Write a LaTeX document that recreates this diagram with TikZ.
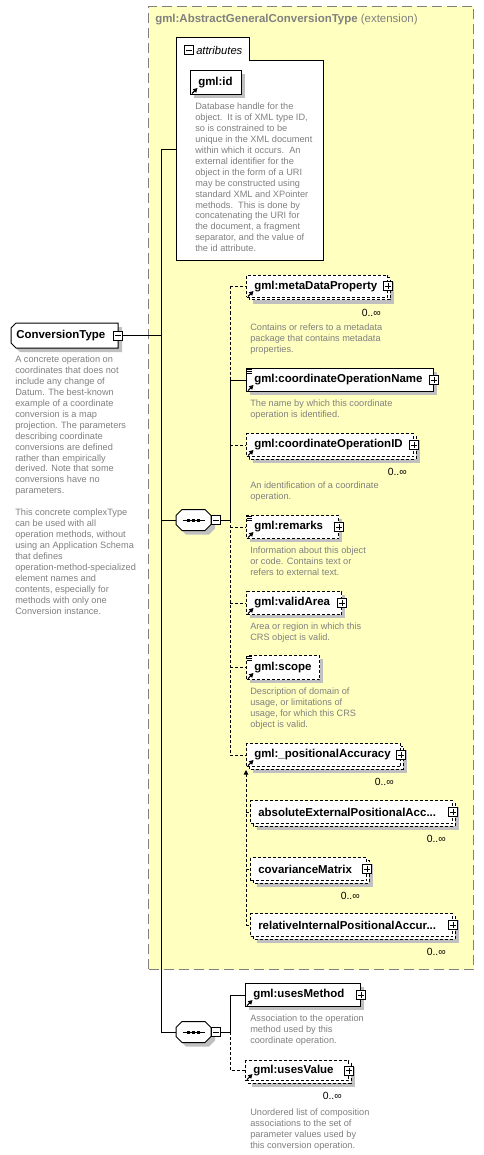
\documentclass[tikz,border=0pt]{standalone}
\usepackage{fontspec}
\setmainfont{Liberation Sans}
\usetikzlibrary{calc,arrows.meta}
\definecolor{extfill}{RGB}{255,255,192}
\definecolor{extline}{RGB}{128,128,128}
\definecolor{descgray}{RGB}{128,128,128}
\definecolor{shadowc}{RGB}{192,192,192}
\tikzset{
 conn/.style={line width=0.75pt},
 dconn/.style={line width=0.75pt, dash pattern=on 2.25pt off 1.5pt},
 elbox/.style={draw, fill=white, line width=0.75pt, inner sep=0},
 dbox/.style={dash pattern=on 2.25pt off 1.5pt},
 eltext/.style={font=\fontsize{8.6pt}{10pt}\selectfont\bfseries, inner sep=0},
 desc/.style={font=\fontsize{6.9pt}{8.2pt}\selectfont, text=descgray, align=left, inner sep=0, anchor=north west},
 mult/.style={font=\fontsize{7.8pt}{9pt}\selectfont, inner sep=0, anchor=east},
 pbox/.style={draw, fill=white, line width=0.75pt, minimum size=6.75pt, inner sep=0},
}
% single element box
\newcommand\ElBox[7]{%
  \fill[shadowc] (#2+4,#3+4) rectangle (#4+4,#5+4);
  \node[elbox,#6,anchor=north west,minimum width={(#4-#2)*0.75pt},minimum height={(#5-#3)*0.75pt}] (#1) at (#2,#3) {};
  \node[eltext,anchor=west] (#1-t) at ($(#1.west)+(8,0)$) {#7};
}
% multiple element box
\newcommand\MultiBox[7]{%
  \fill[shadowc] (#2+7,#3+7) rectangle (#4+7,#5+7);
  \draw[line width=0.75pt,dbox,fill=white] (#2+3,#3+3) rectangle (#4+3,#5+3);
  \node[elbox,dbox,#6,anchor=north west,minimum width={(#4-#2)*0.75pt},minimum height={(#5-#3)*0.75pt}] (#1) at (#2,#3) {};
  \node[eltext,anchor=west] (#1-t) at ($(#1.west)+(8,0)$) {#7};
  \node[mult] (#1-n) at (#4-6,#5+16) {0..∞};
}
\newcommand\PlusBox[1]{%
  \node[pbox] (#1-p) at (#1.east) {};
  \draw[line width=0.6pt] ($(#1-p.center)+(-3,0)$) -- ($(#1-p.center)+(3,0)$)
    ($(#1-p.center)+(0,-3)$) -- ($(#1-p.center)+(0,3)$);
}
\newcommand\MinusBox[3]{%
  \node[pbox] (#1) at (#2,#3) {};
  \draw[line width=0.6pt] ($(#1.center)+(-3,0)$) -- ($(#1.center)+(3,0)$);
}
\newcommand\RefIcon[1]{%
  \draw[line width=0.8pt,-{Triangle[length=3.2pt,width=3.4pt]}] ($(#1.south west)+(2,-1.5)$) -- ++(5.5,-5.5);
}
\newcommand\LinesIcon[1]{%
  \draw[line width=0.45pt] ($(#1.north west)+(1,1)$) -- ++(5,0)
    ($(#1.north west)+(1,3)$) -- ++(5,0) ($(#1.north west)+(1,5)$) -- ++(5,0);
}
\newcommand\SeqNode[3]{%
  \node[inner sep=0, minimum width=26.25pt, minimum height=15.75pt] (#1) at (#2,#3) {};
  \fill[shadowc] (#2-13.5,#3-0.5) -- (#2-7.5,#3-6.5) -- (#2+15.5,#3-6.5) -- (#2+21.5,#3-0.5)
    -- (#2+21.5,#3+8.5) -- (#2+15.5,#3+14.5) -- (#2-7.5,#3+14.5) -- (#2-13.5,#3+8.5) -- cycle;
  \filldraw[fill=white,line width=0.75pt] (#2-17.5,#3-4.5) -- (#2-11.5,#3-10.5) -- (#2+11.5,#3-10.5) -- (#2+17.5,#3-4.5)
    -- (#2+17.5,#3+4.5) -- (#2+11.5,#3+10.5) -- (#2-11.5,#3+10.5) -- (#2-17.5,#3+4.5) -- cycle;
  \draw[line width=0.75pt] (#2-11,#3) -- (#2+11,#3);
  \fill (#2-6.5,#3-1.5) rectangle +(3,3);
  \fill (#2-1.5,#3-1.5) rectangle +(3,3);
  \fill (#2+3.5,#3-1.5) rectangle +(3,3);
  \MinusBox{#1-m}{#2+22.5}{#3}
}
\begin{document}
\begin{tikzpicture}[x=0.75pt,y=-0.75pt]
\useasboundingbox (0,0) rectangle (483,1155);
\fill[white] (0,0) rectangle (483,1155);
% extension box
\node[draw=extline, fill=extfill, line width=0.75pt, dash pattern=on 7.5pt off 3.75pt, inner sep=0,
  anchor=north west, minimum width=243.75pt, minimum height=722.25pt] (ext) at (148,6) {};
\node[anchor=base west, inner sep=0, text=extline, font=\fontsize{8.6pt}{10pt}\selectfont] (ext-t) at (155,22.5)
  {\bfseries gml:AbstractGeneralConversionType \mdseries(extension)};

% ConversionType
\node[inner sep=0, anchor=north west, minimum width=80.25pt, minimum height=18.75pt] (ct) at (11,323) {};
\fill[shadowc] (15,332) -- (20,327) -- (122,327) -- (122,352) -- (20,352) -- (15,347) -- cycle;
\filldraw[fill=white,line width=0.75pt] (11,328) -- (16,323) -- (118,323) -- (118,348) -- (16,348) -- (11,343) -- cycle;
\node[eltext,anchor=west] (ct-t) at (16,335.5) {ConversionType};
\MinusBox{ct-m}{118}{335.5}
\node[desc] (ct-d) at (15,355.7) {A concrete operation on\\coordinates that does not\\include any change of\\Datum. The best-known\\example of a coordinate\\conversion is a map\\projection. The parameters\\describing coordinate\\conversions are defined\\rather than empirically\\derived. Note that some\\conversions have no\\parameters.\\[8.2pt]This concrete complexType\\can be used with all\\operation methods, without\\using an Application Schema\\that defines\\operation-method-specialized\\element names and\\contents, especially for\\methods with only one\\Conversion instance.};

% attributes
\node[inner sep=0, anchor=north west, minimum width=110.25pt, minimum height=167.25pt] (attr) at (176,38) {};
\filldraw[fill=white,line width=0.75pt] (176,261) -- (176,38) -- (249,38) -- (249,61) -- (323,61) -- (323,261) -- cycle;
\MinusBox{attr-m}{188.5}{50.5}
\node[anchor=west, inner sep=0, font=\fontsize{8.4pt}{10pt}\selectfont\itshape] (attr-t) at (196,50.5) {attributes};
\ElBox{gid}{190}{70}{241}{94}{}{gml:id}
\RefIcon{gid}
\node[desc] (gid-d) at (195,102.7) {Database handle for the\\object.\ \ It is of XML type ID,\\so is constrained to be\\unique in the XML document\\within which it occurs.\ \ An\\external identifier for the\\object in the form of a URI\\may be constructed using\\standard XML and XPointer\\methods.\ \ This is done by\\concatenating the URI for\\the document, a fragment\\separator, and the value of\\the id attribute.};

% trunk
\coordinate (trk) at (161,150);
\coordinate (trkB) at (161,1032);
\draw[conn] (ct-m.east) -- (ct-m.east -| trk);
\draw[conn] (trk) -- (trkB);
\draw[conn] (trk) -- (trk -| attr.west);

% sequence 1
\SeqNode{seqA}{193.5}{520}
\draw[conn] (seqA.west -| trk) -- (seqA.west);
\coordinate (busA) at (230,520);
\draw[conn] (seqA-m.east) -- (busA);

\MultiBox{meta}{246}{275}{387}{297}{}{gml:metaDataProperty}
\PlusBox{meta}\RefIcon{meta}
\node[desc] (meta-d) at (250,323.7) {Contains or refers to a metadata\\package that contains metadata\\properties.};

\ElBox{name}{246}{368}{433}{391}{}{gml:coordinateOperationName}
\PlusBox{name}\RefIcon{name}\LinesIcon{name}
\node[desc] (name-d) at (250,399.7) {The name by which this coordinate\\operation is identified.};

\MultiBox{oid}{246}{433}{413}{456}{}{gml:coordinateOperationID}
\PlusBox{oid}\RefIcon{oid}
\node[desc] (oid-d) at (250,481.7) {An identification of a coordinate\\operation.};

\ElBox{rem}{246}{515}{338}{538}{dbox}{gml:remarks}
\PlusBox{rem}\RefIcon{rem}\LinesIcon{rem}
\node[desc] (rem-d) at (250,546.7) {Information about this object\\or code. Contains text or\\refers to external text.};

\ElBox{va}{246}{591}{341}{614}{dbox}{gml:validArea}
\PlusBox{va}\RefIcon{va}
\node[desc] (va-d) at (250,622.7) {Area or region in which this\\CRS object is valid.};

\ElBox{sc}{246}{655}{319}{679}{dbox}{gml:scope}
\RefIcon{sc}\LinesIcon{sc}
\node[desc] (sc-d) at (250,687.7) {Description of domain of\\usage, or limitations of\\usage, for which this CRS\\object is valid.};

\MultiBox{pa}{246}{743}{400}{766}{}{gml:\_positionalAccuracy}
\PlusBox{pa}\RefIcon{pa}

\draw[dconn] (busA |- meta.west) -- (meta.west);
\draw[conn] (busA |- name.west) -- (name.west);
\draw[dconn] (busA |- oid.west) -- (oid.west);
\draw[dconn] (busA |- rem.west) -- (rem.west);
\draw[dconn] (busA |- va.west) -- (va.west);
\draw[dconn] (busA |- sc.west) -- (sc.west);
\draw[dconn] (busA |- pa.west) -- (pa.west);
\draw[dconn] (busA |- meta.west) -- (busA |- name.west);
\draw[conn] (busA |- name.west) -- (busA);
\draw[dconn] (busA) -- (busA |- pa.west);

% substitution group
\MultiBox{ae}{250}{800}{452}{823}{}{absoluteExternalPositionalAcc...}
\PlusBox{ae}
\MultiBox{cm}{250}{857}{366}{880}{}{covarianceMatrix}
\PlusBox{cm}
\MultiBox{ri}{250}{913}{452}{936}{}{relativeInternalPositionalAccur...}
\PlusBox{ri}
\coordinate (subtop) at (246,770);
\draw[dconn,{Triangle[length=3.5pt,width=3.5pt]}-] (subtop) -- (subtop |- ri.west);
\draw[dconn] (subtop |- ae.west) -- (ae.west);
\draw[dconn] (subtop |- cm.west) -- (cm.west);
\draw[dconn] (subtop |- ri.west) -- (ri.west);

% sequence 2
\SeqNode{seqB}{193.5}{1032}
\draw[conn] (trkB) -- (seqB.west);
\coordinate (busB) at (230,1032);
\draw[conn] (seqB-m.east) -- (busB);

\ElBox{um}{245}{983}{360}{1006}{}{gml:usesMethod}
\PlusBox{um}\RefIcon{um}
\node[desc] (um-d) at (250,1014.7) {Association to the operation\\method used by this\\coordinate operation.};

\MultiBox{uv}{245}{1060}{348}{1080}{}{gml:usesValue}
\PlusBox{uv}\RefIcon{uv}
\node[desc] (uv-d) at (250,1108.7) {Unordered list of composition\\associations to the set of\\parameter values used by\\this conversion operation.};

\draw[conn] (busB |- um.west) -- (um.west);
\draw[conn] (busB |- um.west) -- (busB);
\draw[dconn] (busB) -- (busB |- uv.west) -- (uv.west);
\end{tikzpicture}
\end{document}
